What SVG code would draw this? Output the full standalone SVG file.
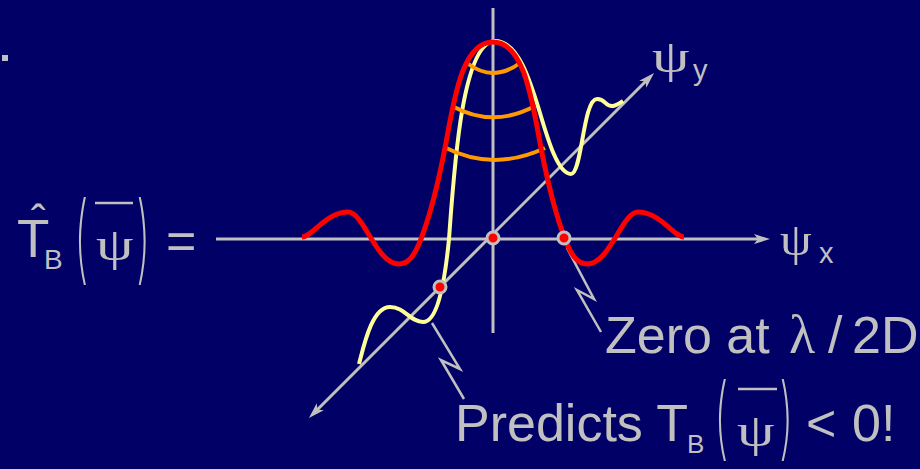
<svg xmlns="http://www.w3.org/2000/svg" width="920" height="469" viewBox="0 0 920 469">
<style>
.ax{stroke:#C0C0C0;stroke-width:3;fill:none}
.co{stroke:#C0C0C0;stroke-width:2.5;fill:none;stroke-linejoin:miter}
.red{stroke:#FF0000;stroke-width:5;fill:none}
.yel{stroke:#FFFF99;stroke-width:4;fill:none}
.org{stroke:#FF9900;stroke-width:4;fill:none}
.dot{fill:#FF0000;stroke:#C0C0C0;stroke-width:3}
.t{fill:#C0C0C0;font-family:"Liberation Sans",Arial,sans-serif}
.g{fill:#C0C0C0;font-family:"Liberation Serif","Times New Roman",serif}
.p{fill:#C0C0C0;font-family:Inter,Roboto,"Liberation Sans",sans-serif;font-weight:200}
.ol{stroke:#C0C0C0;stroke-width:2.5}
</style>
<defs>
<marker id="arr" viewBox="0 0 16 10" refX="6" refY="5" markerWidth="16" markerHeight="10" markerUnits="userSpaceOnUse" orient="auto-start-reverse">
<path d="M0,0 L16,5 L0,10 L4,5 Z" fill="#C0C0C0"/>
</marker>
</defs>
<rect x="0" y="0" width="920" height="469" fill="#000066"/>
<rect x="2" y="55" width="6" height="6" fill="#C0C0C0"/>

<g id="axes">
<line class="ax" x1="216" y1="239" x2="760" y2="239" marker-end="url(#arr)"/>
<line class="ax" x1="493" y1="8" x2="493" y2="333"/>
<line class="ax" x1="316" y1="411" x2="647" y2="80" marker-start="url(#arr)" marker-end="url(#arr)"/>
</g>

<g id="connectors">
<polyline class="co" points="567,248 594,299 577,290 601,332"/>
<polyline class="co" points="432,323 460,369 441,360 464,399"/>
</g>

<g id="curves">
<path id="yellow-curve" class="yel" d="M359,364 C364,345 372,307 390,307 C405,307 410,322 423,322 C436,322 444,290 449,239 C454,170 462,42 495,41 C518,41 530,80 540,113 C548,140 558,174 571,174 C582,174 583,99 597,99 C606,99 605,107 613,106 C617,105.5 620,103 623,101"/>
<path id="arc1" class="org" d="M467,63 Q493,83 520,63"/>
<path id="arc2" class="org" d="M452,106 Q493,128.6 535,106"/>
<path id="arc3" class="org" d="M444,147 Q493,172.3 545,148"/>
<path id="red-curve" class="red" d="M302,237 C312,237 326,212 348,212 C364,212 376,264 399,264 C409,264 415,254.6 421,239 C432.1,210.1 439.1,178.4 445,148 C453.5,103.8 461,42 493,42 C525,42 532.5,103.8 541,148 C546.9,178.4 553.9,210.1 565,239 C571,254.6 577,264 587,264 C610,264 622,212 638,212 C660,212 674,237 684,237"/>
</g>

<g id="dots">
<circle id="dot-origin" class="dot" cx="493" cy="238" r="6"/>
<circle id="dot-zero" class="dot" cx="564" cy="238" r="6"/>
<circle id="dot-neg" class="dot" cx="440" cy="287" r="6"/>
</g>

<g id="label-psi-y">
<text class="g" font-size="46" transform="translate(652,72) scale(1.3,1)">ψ</text>
<text class="t" x="693" y="80" font-size="29">y</text>
</g>
<g id="label-psi-x">
<text class="g" font-size="46" transform="translate(780,255) scale(1.1,1)">ψ</text>
<text class="t" x="819" y="263" font-size="29">x</text>
</g>

<g id="label-formula">
<text class="t" x="17" y="257" font-size="53">T</text>
<text class="t" x="31" y="236" font-size="44">ˆ</text>
<text class="t" x="44" y="269" font-size="28">B</text>
<text class="p" font-size="44" transform="translate(74,272) scale(1,2.2)">(</text>
<line class="ol" x1="95" y1="203" x2="133" y2="203"/>
<text class="g" font-size="46" transform="translate(96,260) scale(1.3,1)">ψ</text>
<text class="p" font-size="44" transform="translate(136,272) scale(1,2.2)">)</text>
<text class="t" x="166" y="259" font-size="52">=</text>
</g>

<g id="label-zero">
<text class="t" x="605" y="353" font-size="52">Zero at</text>
<text class="g" x="789" y="353" font-size="54">λ</text>
<text class="t" x="828" y="353" font-size="52">/</text>
<text class="t" x="852" y="353" font-size="52">2D</text>
</g>

<g id="label-predicts">
<text class="t" x="455" y="441" font-size="52">Predicts T</text>
<text class="t" x="687" y="453" font-size="26">B</text>
<text class="p" font-size="44" transform="translate(714,449) scale(1,2.05)">(</text>
<line class="ol" x1="738" y1="389" x2="777" y2="389"/>
<text class="g" font-size="46" transform="translate(737,446) scale(1.3,1)">ψ</text>
<text class="p" font-size="44" transform="translate(779,449) scale(1,2.05)">)</text>
<text class="t" x="806" y="441" font-size="52">&lt;</text>
<text class="t" x="852" y="441" font-size="52">0!</text>
</g>
</svg>
